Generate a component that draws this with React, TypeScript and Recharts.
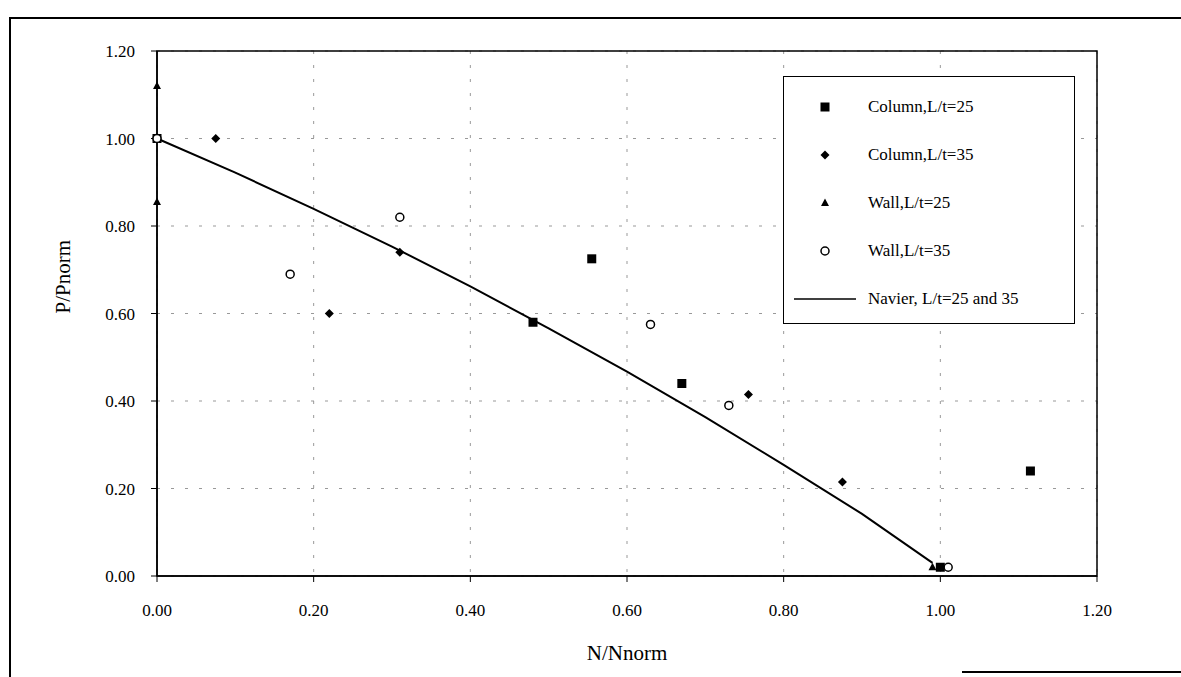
import React from "react";
import {
  CartesianGrid,
  Label,
  ReferenceArea,
  Scatter,
  ScatterChart,
  XAxis,
  YAxis,
} from "recharts";

// test results
const COLUMN_25 = [
  { x: 0.0, y: 1.0 },
  { x: 0.48, y: 0.58 },
  { x: 0.555, y: 0.725 },
  { x: 0.67, y: 0.44 },
  { x: 1.0, y: 0.02 },
  { x: 1.115, y: 0.24 },
];
const COLUMN_35 = [
  { x: 0.075, y: 1.0 },
  { x: 0.22, y: 0.6 },
  { x: 0.31, y: 0.74 },
  { x: 0.755, y: 0.415 },
  { x: 0.875, y: 0.215 },
];
const WALL_25 = [
  { x: 0.0, y: 1.12 },
  { x: 0.0, y: 0.855 },
  { x: 0.99, y: 0.02 },
];
const WALL_35 = [
  { x: 0.0, y: 1.0 },
  { x: 0.17, y: 0.69 },
  { x: 0.31, y: 0.82 },
  { x: 0.63, y: 0.575 },
  { x: 0.73, y: 0.39 },
  { x: 1.01, y: 0.02 },
];
// Navier curve, L/t=25 and 35
const NAVIER = [
  { x: 0.0, y: 1.0 },
  { x: 0.1, y: 0.922 },
  { x: 0.2, y: 0.839 },
  { x: 0.3, y: 0.753 },
  { x: 0.4, y: 0.662 },
  { x: 0.5, y: 0.566 },
  { x: 0.6, y: 0.467 },
  { x: 0.7, y: 0.363 },
  { x: 0.8, y: 0.254 },
  { x: 0.9, y: 0.142 },
  { x: 0.99, y: 0.03 },
];

const TICKS = [0, 0.2, 0.4, 0.6, 0.8, 1.0, 1.2];
const LEGEND_ITEMS = [
  { label: "Column,L/t=25", kind: "square" },
  { label: "Column,L/t=35", kind: "diamond" },
  { label: "Wall,L/t=25", kind: "triangle" },
  { label: "Wall,L/t=35", kind: "circle" },
  { label: "Navier, L/t=25 and 35", kind: "line" },
];

const FONT = "'Liberation Serif', 'Times New Roman', serif";

const Square = ({ cx, cy }: any) => (
  <rect x={cx - 4.5} y={cy - 4.5} width={9} height={9} fill="#000" />
);
const Diamond = ({ cx, cy }: any) => (
  <path d={`M${cx},${cy - 4.5}L${cx + 4.5},${cy}L${cx},${cy + 4.5}L${cx - 4.5},${cy}Z`} fill="#000" />
);
const Triangle = ({ cx, cy }: any) => (
  <path d={`M${cx},${cy - 4.5}L${cx + 4},${cy + 3}L${cx - 4},${cy + 3}Z`} fill="#000" />
);
const Circle = ({ cx, cy }: any) => (
  <circle cx={cx} cy={cy} r={4} fill="#fff" stroke="#000" strokeWidth={1.5} />
);
const NoDot = () => <g />;

function marker(kind: string) {
  if (kind === "line") return <line x1={0} y1={8} x2={62} y2={8} stroke="#000" strokeWidth={1.5} />;
  const c = { cx: 31, cy: 8 };
  if (kind === "square") return <Square {...c} />;
  if (kind === "diamond") return <Diamond {...c} />;
  if (kind === "triangle") return <Triangle {...c} />;
  return <Circle {...c} />;
}

function LegendBox() {
  return (
    <div
      style={{
        position: "absolute",
        left: 783,
        top: 76,
        width: 290,
        border: "1.5px solid #000",
        background: "#fff",
        padding: "6px 0 0 0",
        fontFamily: FONT,
        fontSize: 17,
      }}
    >
      {LEGEND_ITEMS.map((it) => (
        <div key={it.label} style={{ display: "flex", alignItems: "center", height: 48 }}>
          <svg width={74} height={16} style={{ marginLeft: 10 }}>
            {marker(it.kind)}
          </svg>
          <span>{it.label}</span>
        </div>
      ))}
    </div>
  );
}

export default function App() {
  return (
    <div
      style={{
        position: "absolute",
        left: 0,
        top: 0,
        width: 1181,
        height: 677,
        background: "#fff",
        overflow: "hidden",
      }}
    >
      <div
        style={{
          position: "absolute",
          left: 9,
          top: 17,
          width: 1181,
          height: 700,
          borderLeft: "2px solid #000",
          borderTop: "2px solid #000",
        }}
      />
      <div
        style={{
          position: "absolute",
          left: 962,
          top: 671,
          width: 219,
          borderTop: "2px solid #000",
        }}
      />
      <div style={{ position: "absolute", left: 0, top: 0 }}>
        <ScatterChart
          width={1181}
          height={677}
          margin={{ top: 51, right: 84, left: 97, bottom: 41 }}
          style={{ fontFamily: FONT }}
        >
          <CartesianGrid stroke="#999" strokeDasharray="3 11" />
          <XAxis
            type="number"
            dataKey="x"
            domain={[0, 1.2]}
            ticks={TICKS}
            tickFormatter={(v) => v.toFixed(2)}
            tick={{ fill: "#000", fontSize: 17 }}
            tickLine={{ stroke: "#000" }}
            axisLine={{ stroke: "#000", strokeWidth: 1.5 }}
            tickMargin={22}
            height={60}
          >
            <Label value="N/Nnorm" position="insideBottom" offset={-24} fill="#000" fontSize={21} />
          </XAxis>
          <YAxis
            type="number"
            dataKey="y"
            domain={[0, 1.2]}
            ticks={TICKS}
            tickFormatter={(v) => v.toFixed(2)}
            tick={{ fill: "#000", fontSize: 17 }}
            tickLine={{ stroke: "#000" }}
            axisLine={{ stroke: "#000", strokeWidth: 1.5 }}
            tickMargin={16}
            width={60}
          >
            <Label value="P/Pnorm" angle={-90} position="insideLeft" offset={-34} fill="#000" fontSize={21} />
          </YAxis>
          <ReferenceArea x1={0} x2={1.2} y1={0} y2={1.2} fill="none" stroke="#000" strokeWidth={1.5} />
          <Scatter
            name="Navier, L/t=25 and 35"
            data={NAVIER}
            line={{ stroke: "#000", strokeWidth: 2 }}
            lineType="joint"
            shape={NoDot}
            isAnimationActive={false}
          />
          <Scatter name="Column,L/t=25" data={COLUMN_25} shape={Square} isAnimationActive={false} />
          <Scatter name="Column,L/t=35" data={COLUMN_35} shape={Diamond} isAnimationActive={false} />
          <Scatter name="Wall,L/t=25" data={WALL_25} shape={Triangle} isAnimationActive={false} />
          <Scatter name="Wall,L/t=35" data={WALL_35} shape={Circle} isAnimationActive={false} />
        </ScatterChart>
      </div>
      <LegendBox />
    </div>
  );
}
